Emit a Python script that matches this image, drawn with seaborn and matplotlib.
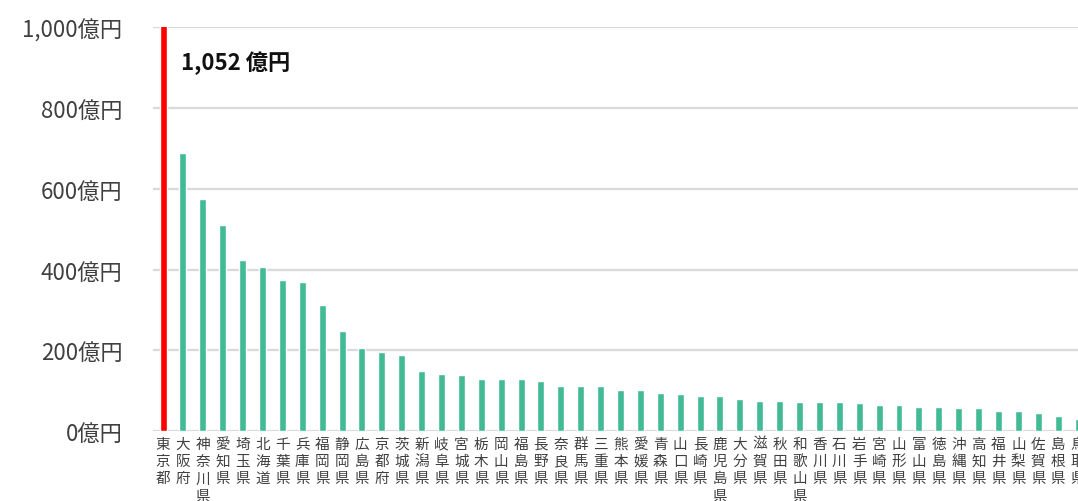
import pandas as pd
import seaborn as sns
import matplotlib.pyplot as plt

# 都道府県別の金額（億円）
prefectures = [
    "東京都", "大阪府", "神奈川県", "愛知県", "埼玉県", "北海道", "千葉県", "兵庫県",
    "福岡県", "静岡県", "広島県", "京都府", "茨城県", "新潟県", "岐阜県", "宮城県",
    "栃木県", "岡山県", "福島県", "長野県", "奈良県", "群馬県", "三重県", "熊本県",
    "愛媛県", "青森県", "山口県", "長崎県", "鹿児島県", "大分県", "滋賀県", "秋田県",
    "和歌山県", "香川県", "石川県", "岩手県", "宮崎県", "山形県", "富山県", "徳島県",
    "沖縄県", "高知県", "福井県", "山梨県", "佐賀県", "島根県", "鳥取県",
]
amounts = [
    1052, 688, 574, 511, 423, 406, 373, 370,
    313, 248, 205, 196, 189, 148, 142, 139,
    130, 130, 128, 125, 112, 112, 112, 103,
    103, 95, 91, 88, 86, 80, 76, 76,
    73, 73, 73, 70, 65, 65, 61, 61,
    58, 58, 49, 49, 46, 37, 31,
]
y_ticks = [0, 200, 400, 600, 800, 1000]
highlight = "東京都"

df = pd.DataFrame({"pref": prefectures, "amount": amounts})
colors = {p: ("#ff0000" if p == highlight else "#43ba96") for p in prefectures}

sns.set_theme(style="white")
plt.rcParams["font.family"] = ["Noto Sans CJK JP", "DejaVu Sans"]

fig = plt.figure(figsize=(10.78, 5.02), dpi=100)
ax = fig.add_axes([0.142, 0.139, 0.858, 0.805])

# グリッド線
for t in y_ticks:
    ax.axhline(t, color="#d9d9d9", linewidth=1.6, zorder=0)

sns.barplot(data=df, x="pref", y="amount", hue="pref", palette=colors,
            legend=False, width=0.35, saturation=1, ax=ax, zorder=2)

ax.set_ylim(0, 1000)
ax.set_xlim(-0.5, 46.0)
ax.set_yticks(y_ticks)
ax.set_yticklabels([f"{t:,}億円" for t in y_ticks], fontsize=16, color="#404040")
ax.set_xticks(range(len(prefectures)))
ax.set_xticklabels(["\n".join(p) for p in prefectures], rotation=0,
                   fontsize=10.5, color="#404040", va="top", linespacing=1.3)
ax.tick_params(axis="y", length=0, pad=22)
ax.tick_params(axis="x", length=0, pad=4)
ax.set_xlabel("")
ax.set_ylabel("")
for s in ax.spines.values():
    s.set_visible(False)
ax.grid(False)

# 東京都の値（軸の上限を超えるため注記）
ax.text(0.9, 913, f"{amounts[0]:,} 億円", fontsize=16, fontweight="bold",
        color="#111111", ha="left", va="center")

fig.savefig("out.png", dpi=100)
